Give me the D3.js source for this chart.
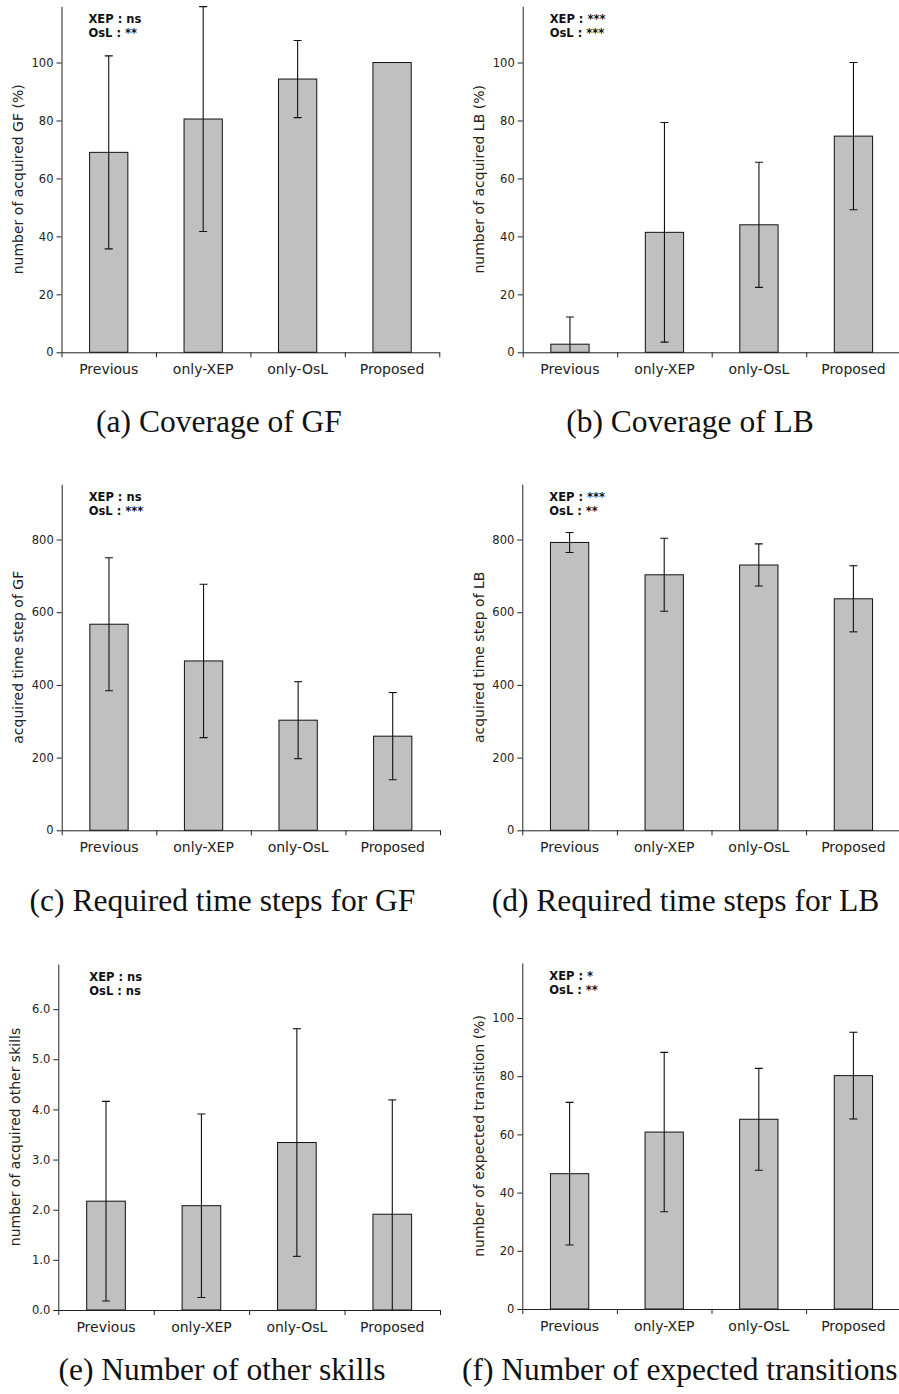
<!DOCTYPE html>
<html>
<head>
<meta charset="utf-8">
<script src="https://cdn.jsdelivr.net/npm/d3@7"></script>
<style>
  html, body { margin: 0; padding: 0; background: #fff; }
  svg { display: block; }
</style>
</head>
<body>
<svg id="fig" width="899" height="1394"></svg>
<script>
// ---- data ----
const categories = ["Previous", "only-XEP", "only-OsL", "Proposed"];

const gfCoverageMean = [69.0, 80.5, 94.3, 100.0];
const gfCoverageErr  = [33.3, 38.8, 13.3, 0];

const lbCoverageMean = [2.8, 41.4, 44.0, 74.6];
const lbCoverageErr  = [9.4, 37.9, 21.6, 25.4];

const gfStepMean = [567, 466, 303, 259];
const gfStepErr  = [183, 211, 106, 120];

const lbStepMean = [792, 703, 730, 637];
const lbStepErr  = [27.5, 100.5, 58, 91];

const otherSkillMean = [2.17, 2.08, 3.34, 1.91];
const otherSkillErr  = [1.99, 1.83, 2.27, 2.28];

const transitionMean = [46.5, 60.8, 65.2, 80.2];
const transitionErr  = [24.5, 27.4, 17.5, 14.9];

const percentTicks = [0, 20, 40, 60, 80, 100];
const stepTicks    = [0, 200, 400, 600, 800];
const skillTicks   = [0, 1, 2, 3, 4, 5, 6];

const xepSignificance = ["ns", "***", "ns", "***", "ns", "*"];
const oslSignificance = ["**", "***", "***", "**", "ns", "**"];

const yLabels = [
  "number of acquired GF (%)",
  "number of acquired LB (%)",
  "acquired time step of GF",
  "acquired time step of LB",
  "number of acquired other skills",
  "number of expected transition (%)"
];

const captions = [
  "(a) Coverage of GF",
  "(b) Coverage of LB",
  "(c) Required time steps for GF",
  "(d) Required time steps for LB",
  "(e) Number of other skills",
  "(f) Number of expected transitions"
];

// ---- layout of the six sub-plots ----
const panels = [
  { mean: gfCoverageMean, err: gfCoverageErr, ticks: percentTicks, fmt: d3.format("d"), yMax: 119.4,
    x0: 61.5, x1: 439.3, yTop: 6.3, yBot: 352.3, noteDx: 27, capX: 219, capY: 432, capAnchor: "middle" },
  { mean: lbCoverageMean, err: lbCoverageErr, ticks: percentTicks, fmt: d3.format("d"), yMax: 119.4,
    x0: 522.7, x1: 900.7, yTop: 6.3, yBot: 352.3, noteDx: 27, capX: 690, capY: 432, capAnchor: "middle" },
  { mean: gfStepMean, err: gfStepErr, ticks: stepTicks, fmt: d3.format("d"), yMax: 952,
    x0: 61.7, x1: 440, yTop: 484.3, yBot: 830.3, noteDx: 27, capX: 222.5, capY: 911, capAnchor: "middle" },
  { mean: lbStepMean, err: lbStepErr, ticks: stepTicks, fmt: d3.format("d"), yMax: 952,
    x0: 522.3, x1: 900.7, yTop: 484.3, yBot: 830.3, noteDx: 27, capX: 685.5, capY: 911, capAnchor: "middle" },
  { mean: otherSkillMean, err: otherSkillErr, ticks: skillTicks, fmt: d3.format(".1f"), yMax: 6.9,
    x0: 58.3, x1: 440, yTop: 964, yBot: 1310, noteDx: 31, capX: 222, capY: 1380, capAnchor: "middle" },
  { mean: transitionMean, err: transitionErr, ticks: percentTicks, fmt: d3.format("d"), yMax: 118.9,
    x0: 522.3, x1: 900.7, yTop: 963, yBot: 1309, noteDx: 27, capX: 462, capY: 1380, capAnchor: "start" }
];

const svg = d3.select("#fig");
svg.append("rect").attr("width", 899).attr("height", 1394).attr("fill", "#fff");

const sansFont = "'DejaVu Sans', 'Noto Sans', sans-serif";
const axisColor = "#222";

panels.forEach((p, i) => {
  const g = svg.append("g");

  const x = d3.scaleBand()
    .domain(categories)
    .range([p.x0, p.x1])
    .paddingInner(0.595)
    .paddingOuter(0.2975);

  const y = d3.scaleLinear().domain([0, p.yMax]).range([p.yBot, p.yTop]);

  // clip area for error bars
  const clipId = "clip" + i;
  svg.append("clipPath").attr("id", clipId)
    .append("rect")
    .attr("x", p.x0).attr("y", p.yTop - 2)
    .attr("width", p.x1 - p.x0).attr("height", p.yBot - p.yTop + 2);

  // bars
  g.selectAll("rect.bar")
    .data(categories)
    .join("rect")
    .attr("class", "bar")
    .attr("x", d => x(d))
    .attr("width", x.bandwidth())
    .attr("y", (d, k) => y(p.mean[k]))
    .attr("height", (d, k) => y(0) - y(p.mean[k]))
    .attr("fill", "#c0c0c0")
    .attr("stroke", "#111")
    .attr("stroke-width", 1);

  // error bars
  const eg = g.append("g").attr("clip-path", `url(#${clipId})`)
    .attr("stroke", "#111").attr("stroke-width", 1.1).attr("fill", "none");
  categories.forEach((c, k) => {
    if (!p.err[k]) return;
    const cx = x(c) + x.bandwidth() / 2;
    const lo = y(p.mean[k] - p.err[k]);
    const hi = y(p.mean[k] + p.err[k]);
    eg.append("line").attr("x1", cx).attr("x2", cx).attr("y1", lo).attr("y2", hi);
    eg.append("line").attr("x1", cx - 4).attr("x2", cx + 4).attr("y1", hi).attr("y2", hi);
    eg.append("line").attr("x1", cx - 4).attr("x2", cx + 4).attr("y1", lo).attr("y2", lo);
  });

  // y axis
  const yAxis = g.append("g")
    .attr("transform", `translate(${p.x0},0)`)
    .call(d3.axisLeft(y).tickValues(p.ticks).tickFormat(p.fmt)
      .tickSize(5).tickSizeOuter(0).tickPadding(3));
  yAxis.selectAll("path, line").attr("stroke", axisColor);
  yAxis.selectAll("text").attr("font-family", sansFont).attr("font-size", 11.5).attr("fill", axisColor);

  // x axis: baseline with ticks at the category boundaries
  const xEdges = d3.scaleLinear().domain([0, categories.length]).range([p.x0, p.x1]);
  const xAxis = g.append("g")
    .attr("transform", `translate(0,${p.yBot})`)
    .call(d3.axisBottom(xEdges).tickValues(d3.range(categories.length + 1))
      .tickFormat("").tickSize(5).tickSizeOuter(0));
  xAxis.selectAll("path, line").attr("stroke", axisColor);

  // category labels
  g.selectAll("text.cat")
    .data(categories)
    .join("text")
    .attr("class", "cat")
    .attr("x", d => x(d) + x.bandwidth() / 2)
    .attr("y", p.yBot + 21.7)
    .attr("text-anchor", "middle")
    .attr("font-family", sansFont)
    .attr("font-size", 14)
    .attr("fill", axisColor)
    .text(d => d);

  // y label
  g.append("text")
    .attr("transform", `translate(${p.x0 - 43.5},${(p.yTop + p.yBot) / 2}) rotate(-90)`)
    .attr("text-anchor", "middle")
    .attr("dominant-baseline", "central")
    .attr("font-family", sansFont)
    .attr("font-size", 14)
    .attr("fill", axisColor)
    .text(yLabels[i]);

  // significance notes
  const note = g.append("g")
    .attr("font-family", sansFont)
    .attr("font-size", 11.5)
    .attr("font-weight", "bold")
    .attr("fill", "#111");
  note.append("text").attr("x", p.x0 + p.noteDx).attr("y", p.yTop + 16.5)
    .text(`XEP : ${xepSignificance[i]}`);
  note.append("text").attr("x", p.x0 + p.noteDx).attr("y", p.yTop + 30.5)
    .text(`OsL : ${oslSignificance[i]}`);

  // caption
  svg.append("text")
    .attr("x", p.capX)
    .attr("y", p.capY)
    .attr("text-anchor", p.capAnchor)
    .attr("font-family", "'Liberation Serif', 'DejaVu Serif', serif")
    .attr("font-size", 31.5)
    .attr("fill", "#111")
    .text(captions[i]);
});
</script>
</body>
</html>
